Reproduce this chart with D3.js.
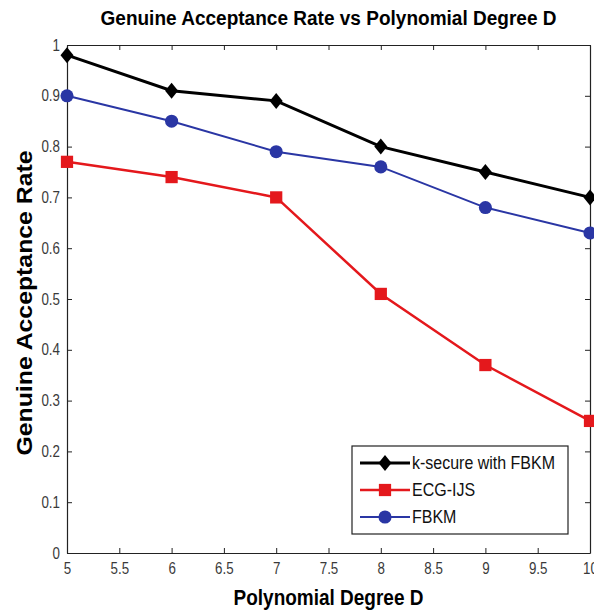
<!DOCTYPE html>
<html>
<head>
<meta charset="utf-8">
<script src="https://cdn.jsdelivr.net/npm/d3@7"></script>
<style>
  body { margin: 0; background: #fff; }
  svg { display: block; }
  text { font-family: "Liberation Sans", Arial, sans-serif; }
</style>
</head>
<body>
<div id="chart"></div>
<script>
// data
const degrees = [5, 6, 7, 8, 9, 10];
const kSecure = [0.98, 0.91, 0.89, 0.80, 0.75, 0.70];
const ecgIjs = [0.77, 0.74, 0.70, 0.51, 0.37, 0.26];
const fbkm = [0.90, 0.85, 0.79, 0.76, 0.68, 0.63];
const xTicks = [5, 5.5, 6, 6.5, 7, 7.5, 8, 8.5, 9, 9.5, 10];
const yTicks = [0, 0.1, 0.2, 0.3, 0.4, 0.5, 0.6, 0.7, 0.8, 0.9, 1];
const seriesNames = ['k-secure with FBKM', 'ECG-IJS', 'FBKM'];

const W = 594, H = 611;
const margin = { top: 45, right: 4, bottom: 58, left: 67 };
const width = W - margin.left - margin.right;
const height = H - margin.top - margin.bottom;
const stretch = 1.2; // the source image is squashed horizontally / stretched vertically

const svg = d3.select('#chart').append('svg')
  .attr('width', W)
  .attr('height', H);

const g = svg.append('g')
  .attr('transform', 'translate(' + margin.left + ',' + margin.top + ')');

const x = d3.scaleLinear().domain([5, 10]).range([0, width]);
const y = d3.scaleLinear().domain([0, 1]).range([height, 0]);

const fmt = d => d3.format('~g')(d);

// axes: inward ticks all around, like matlab
const xAxis = g.append('g')
  .attr('transform', 'translate(0,' + height + ')')
  .call(d3.axisBottom(x).tickValues(xTicks).tickFormat(fmt).tickSizeInner(-5).tickSizeOuter(0));
const xTop = g.append('g')
  .call(d3.axisTop(x).tickValues(xTicks).tickFormat('').tickSizeInner(-5).tickSizeOuter(0));
const yAxis = g.append('g')
  .call(d3.axisLeft(y).tickValues(yTicks).tickFormat(fmt).tickSizeInner(-5).tickSizeOuter(0));
const yRight = g.append('g')
  .attr('transform', 'translate(' + width + ',0)')
  .call(d3.axisRight(y).tickValues(yTicks).tickFormat('').tickSizeInner(-5).tickSizeOuter(0));

[xAxis, xTop, yAxis, yRight].forEach(a => {
  a.select('.domain').attr('stroke', '#222').attr('stroke-width', 1.2);
  a.selectAll('.tick line').attr('stroke', '#222');
  a.selectAll('.tick text')
    .attr('fill', '#3a3a3a')
    .style('font-size', '14.5px');
});

xAxis.selectAll('.tick text')
  .attr('y', 0)
  .attr('dy', null)
  .attr('transform', 'translate(0,21) scale(0.92,' + stretch + ')');
yAxis.selectAll('.tick text')
  .attr('x', 0)
  .attr('dy', null)
  .attr('transform', 'translate(-7,5) scale(0.92,' + stretch + ')');

// series
const series = [
  { name: seriesNames[0], values: kSecure, color: '#000000', lw: 3, marker: 'diamond' },
  { name: seriesNames[1], values: ecgIjs, color: '#e4181c', lw: 2.5, marker: 'square' },
  { name: seriesNames[2], values: fbkm, color: '#2a36a4', lw: 2, marker: 'circle' }
];

// wide matlab style diamond
const wideDiamond = {
  draw(ctx, size) {
    const hw = 6.5, hh = 8;
    ctx.moveTo(0, -hh);
    ctx.lineTo(hw, 0);
    ctx.lineTo(0, hh);
    ctx.lineTo(-hw, 0);
    ctx.closePath();
  }
};

const symbolFor = {
  diamond: d3.symbol().type(wideDiamond),
  square: d3.symbol().type(d3.symbolSquare).size(150),
  circle: d3.symbol().type(d3.symbolCircle).size(135)
};

const line = d3.line()
  .x((d, i) => x(degrees[i]))
  .y(d => y(d));

series.forEach(s => {
  g.append('path')
    .datum(s.values)
    .attr('fill', 'none')
    .attr('stroke', s.color)
    .attr('stroke-width', s.lw)
    .attr('d', line);
  g.selectAll('.m-' + s.marker)
    .data(s.values)
    .enter()
    .append('path')
    .attr('class', 'm-' + s.marker)
    .attr('transform', (d, i) => 'translate(' + x(degrees[i]) + ',' + y(d) + ')')
    .attr('d', symbolFor[s.marker]())
    .attr('fill', s.color);
});

// legend
const leg = svg.append('g')
  .attr('transform', 'translate(352,446)');
leg.append('rect')
  .attr('width', 216)
  .attr('height', 88)
  .attr('fill', '#fff')
  .attr('stroke', '#222')
  .attr('stroke-width', 1.2);
series.forEach((s, i) => {
  const row = leg.append('g').attr('transform', 'translate(0,' + (17 + i * 27) + ')');
  row.append('line')
    .attr('x1', 8).attr('x2', 58)
    .attr('stroke', s.color)
    .attr('stroke-width', s.lw);
  row.append('path')
    .attr('transform', 'translate(33,0)')
    .attr('d', symbolFor[s.marker]())
    .attr('fill', s.color);
  row.append('text')
    .attr('transform', 'translate(60,6) scale(1,1.12)')
    .style('font-size', '16px')
    .attr('fill', '#111')
    .text(s.name);
});

// title and axis labels
svg.append('text')
  .attr('transform', 'translate(' + (margin.left + width / 2) + ',25) scale(1,1.12)')
  .attr('text-anchor', 'middle')
  .attr('textLength', 456)
  .attr('lengthAdjust', 'spacingAndGlyphs')
  .style('font-size', '18px')
  .style('font-weight', 'bold')
  .text('Genuine Acceptance Rate vs Polynomial Degree D');

svg.append('text')
  .attr('transform', 'translate(' + (margin.left + width / 2) + ',605) scale(1,' + stretch + ')')
  .attr('text-anchor', 'middle')
  .style('font-size', '19px')
  .style('font-weight', 'bold')
  .text('Polynomial Degree D');

svg.append('text')
  .attr('transform', 'translate(32,303) rotate(-90)')
  .attr('text-anchor', 'middle')
  .attr('textLength', 305)
  .attr('lengthAdjust', 'spacingAndGlyphs')
  .style('font-size', '22px')
  .style('font-weight', 'bold')
  .text('Genuine Acceptance Rate');
</script>
</body>
</html>
